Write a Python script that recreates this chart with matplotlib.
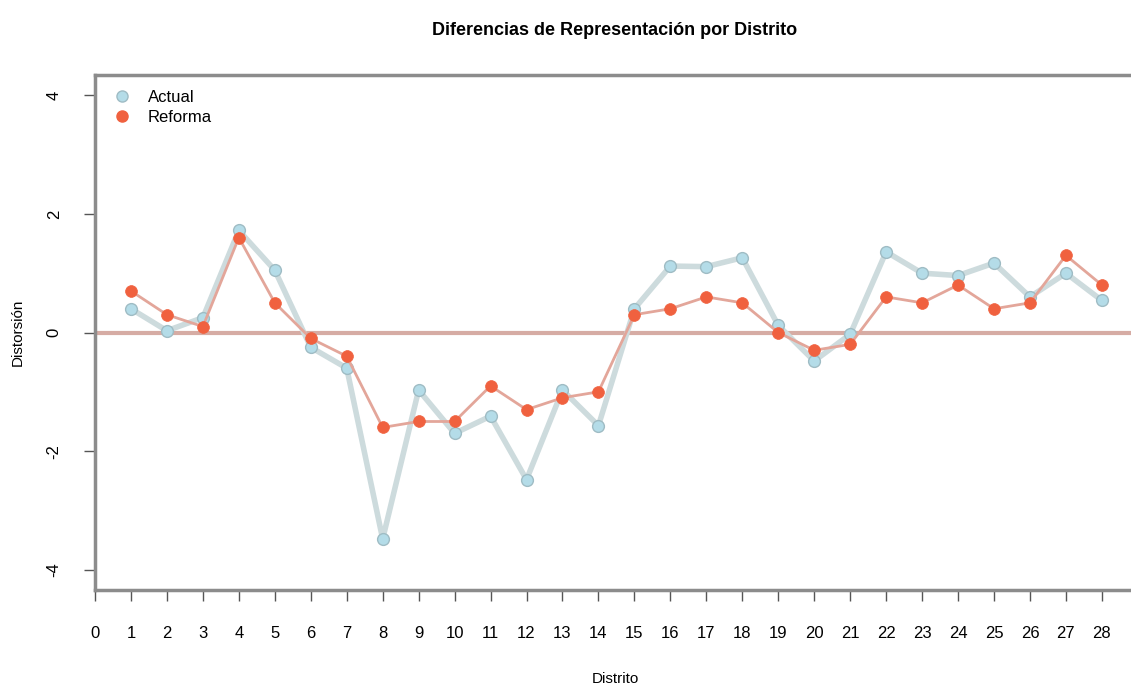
import numpy as np
import matplotlib
matplotlib.use("Agg")
import matplotlib.pyplot as plt
from matplotlib.lines import Line2D

plt.rcParams['font.family'] = ['Liberation Sans', 'DejaVu Sans']

distrito = list(range(1, 29))
actual = [0.40, 0.03, 0.25, 1.72, 1.05, -0.25, -0.60, -3.48, -0.97, -1.70,
          -1.41, -2.48, -0.97, -1.57, 0.40, 1.12, 1.11, 1.26, 0.12, -0.48,
          -0.03, 1.36, 1.00, 0.96, 1.17, 0.60, 1.00, 0.54]
reforma = [0.70, 0.30, 0.10, 1.60, 0.50, -0.10, -0.40, -1.60, -1.50, -1.50,
           -0.90, -1.30, -1.10, -1.00, 0.30, 0.40, 0.60, 0.50, 0.00, -0.30,
           -0.20, 0.60, 0.50, 0.80, 0.40, 0.50, 1.30, 0.80]
x_ticks = list(range(0, 29))
y_ticks = [-4, -2, 0, 2, 4]

fig = plt.figure(figsize=(11.31, 6.85), dpi=100)
ax = fig.add_axes([95/1131, 95/685, (1135-95)/1131, 515/685])

ax.axhline(0, color='#d6aca4', lw=3, zorder=1)

# actual: thick grey-blue line, light blue points
ax.plot(distrito, actual, color='#cddbdd', lw=4, zorder=2)
ax.plot(distrito, actual, 'o', ms=8.5, mfc='#b4dce8', mec='#9fbcc4', mew=1, zorder=3)
# reforma: thin pink line, tomato points
ax.plot(distrito, reforma, color='#e3a69a', lw=2, zorder=4)
ax.plot(distrito, reforma, 'o', ms=8.5, mfc='#f0613f', mec='#f0613f', mew=0.5, zorder=5)

ax.set_xlim(0, (1135-95)/35.96)
ax.set_ylim(-4.34, 4.34)
ax.set_xticks(x_ticks)
ax.set_yticks(y_ticks)
ax.set_yticklabels([str(v) for v in y_ticks], rotation=90, va='center')
ax.tick_params(axis='x', length=8, width=1, color='#555555', labelsize=12, pad=18)
ax.tick_params(axis='y', length=8, width=1, color='#555555', labelsize=12, pad=16)

for side in ['left', 'top', 'bottom', 'right']:
    ax.spines[side].set_color('#8c8c8c')
    ax.spines[side].set_linewidth(2.5)

ax.set_xlabel('Distrito', fontsize=11, labelpad=22)
ax.set_ylabel('Distorsión', fontsize=11, labelpad=16)
ax.set_title('Diferencias de Representación por Distrito', fontsize=13,
             fontweight='bold', pad=29)

handles = [
    Line2D([], [], ls='none', marker='o', ms=8, mfc='#b4dce8', mec='#9fbcc4'),
    Line2D([], [], ls='none', marker='o', ms=8, mfc='#f0613f', mec='#f0613f'),
]
ax.legend(handles, ['Actual', 'Reforma'], loc='upper left', frameon=False,
          fontsize=12, handlelength=1.0, handletextpad=1.0, labelspacing=0.3,
          bbox_to_anchor=(0.004, 1.0), borderaxespad=0.5)

fig.savefig('out.png', dpi=100)
